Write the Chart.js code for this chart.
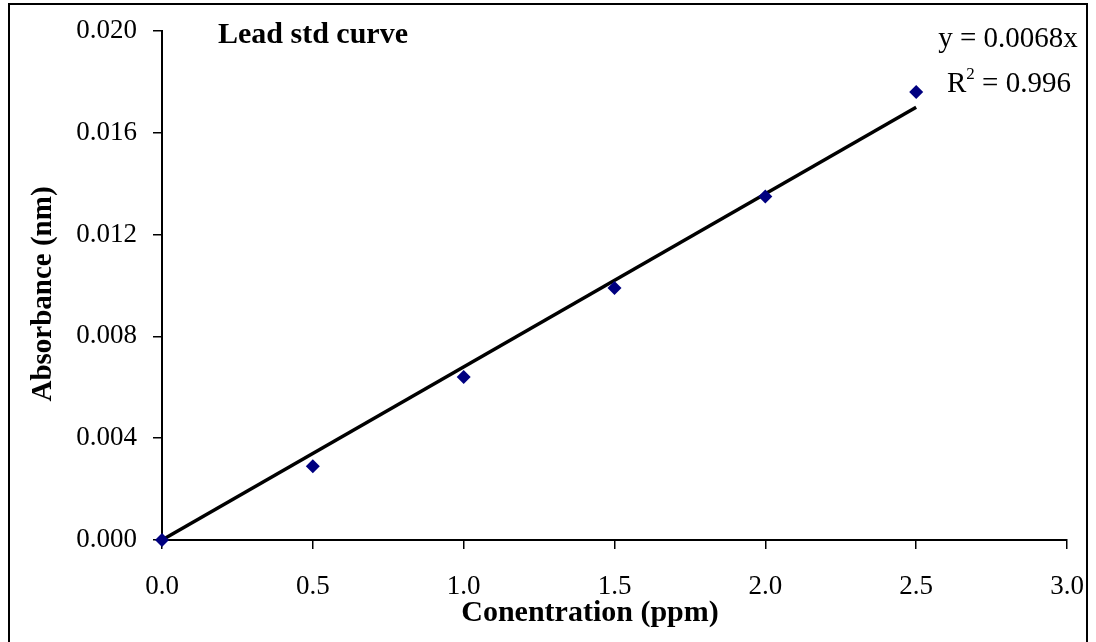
<!DOCTYPE html>
<html>
<head>
<meta charset="utf-8">
<script src="https://cdn.jsdelivr.net/npm/chart.js@4.4.0/dist/chart.umd.min.js"></script>
<style>
  html, body { margin: 0; padding: 0; background: #fff; }
  #wrap { width: 1096px; height: 642px; }
</style>
</head>
<body>
<div id="wrap"><canvas id="myChart" width="1096" height="642"></canvas></div>
<script>
// lead standard curve data
const concentration = [0, 0.5, 1.0, 1.5, 2.0, 2.5];
const absorbance = [0, 0.0029, 0.0064, 0.0099, 0.0135, 0.0176];
const slope = 0.0068;
const rSquared = "0.996";
const trendRange = [0, 2.5];
const xTicks = [0, 0.5, 1.0, 1.5, 2.0, 2.5, 3.0];
const yTicks = [0, 0.004, 0.008, 0.012, 0.016, 0.020];

const serif = "'Liberation Serif', 'Times New Roman', serif";
Chart.defaults.font.family = serif;
Chart.defaults.color = "#000";

const ctx = document.getElementById("myChart");

// frame, title, equation and axis titles
const textPlugin = {
  id: "textPlugin",
  afterDraw(chart) {
    const c = chart.ctx;
    c.save();
    c.strokeStyle = "#000";
    c.lineWidth = 2;
    c.beginPath();
    c.moveTo(9, 642);
    c.lineTo(9, 4);
    c.lineTo(1087, 4);
    c.lineTo(1087, 642);
    c.stroke();

    c.fillStyle = "#000";
    c.textBaseline = "alphabetic";

    c.font = "bold 30px " + serif;
    c.textAlign = "left";
    c.fillText("Lead std curve", 218, 43);

    c.textAlign = "center";
    c.fillText("Conentration (ppm)", 590, 621);

    c.save();
    c.translate(51, 294);
    c.rotate(-Math.PI / 2);
    c.font = "bold 29px " + serif;
    c.fillText("Absorbance (nm)", 0, 0);
    c.restore();

    // trendline equation
    c.font = "29px " + serif;
    c.fillText("y = " + slope + "x", 1008, 47);

    const rest = " = " + rSquared;
    const wR = c.measureText("R").width;
    const wRest = c.measureText(rest).width;
    c.font = "17px " + serif;
    const wSup = c.measureText("2").width;
    let x = 1009 - (wR + wSup + wRest) / 2;
    c.textAlign = "left";
    c.font = "29px " + serif;
    c.fillText("R", x, 92);
    x += wR;
    c.font = "17px " + serif;
    c.fillText("2", x, 79);
    x += wSup;
    c.font = "29px " + serif;
    c.fillText(rest, x, 92);
    c.restore();
  }
};

new Chart(ctx, {
  type: "scatter",
  data: {
    datasets: [
      {
        label: "Absorbance",
        data: concentration.map((v, i) => ({ x: v, y: absorbance[i] })),
        pointStyle: "rectRot",
        pointRadius: 7,
        pointHoverRadius: 7,
        backgroundColor: "#000080",
        borderColor: "#000080",
        borderWidth: 0,
        clip: false,
        order: 1,
      },
      {
        type: "line",
        label: "Linear fit",
        data: trendRange.map(v => ({ x: v, y: slope * v })),
        borderColor: "#000",
        borderWidth: 3.5,
        pointRadius: 0,
        fill: false,
        order: 2,
      },
    ],
  },
  options: {
    responsive: false,
    animation: false,
    events: [],
    layout: { padding: { top: 31, right: 29, left: 0, bottom: 0 } },
    plugins: {
      legend: { display: false },
      tooltip: { enabled: false },
    },
    scales: {
      x: {
        type: "linear",
        min: 0,
        max: 3,
        afterFit(scale) {
          scale.height = 102;
          scale.paddingLeft = 0;
          scale.paddingRight = 0;
        },
        afterBuildTicks(scale) { scale.ticks = xTicks.map(v => ({ value: v })); },
        ticks: {
          padding: 22,
          font: { size: 27 },
          color: "#000",
          maxRotation: 0,
          callback: v => v.toFixed(1),
        },
        grid: { drawOnChartArea: false, tickLength: 9, color: "#000", lineWidth: 1.5 },
        border: { color: "#000", width: 2 },
      },
      y: {
        min: 0,
        max: 0.02,
        afterFit(scale) {
          scale.width = 162;
          scale.paddingTop = 0;
          scale.paddingBottom = 0;
        },
        afterBuildTicks(scale) { scale.ticks = yTicks.map(v => ({ value: v })); },
        ticks: {
          padding: 16,
          font: { size: 27 },
          color: "#000",
          callback: v => v.toFixed(3),
        },
        grid: { drawOnChartArea: false, tickLength: 9, color: "#000", lineWidth: 1.5 },
        border: { color: "#000", width: 2 },
      },
    },
  },
  plugins: [textPlugin],
});
</script>
</body>
</html>
